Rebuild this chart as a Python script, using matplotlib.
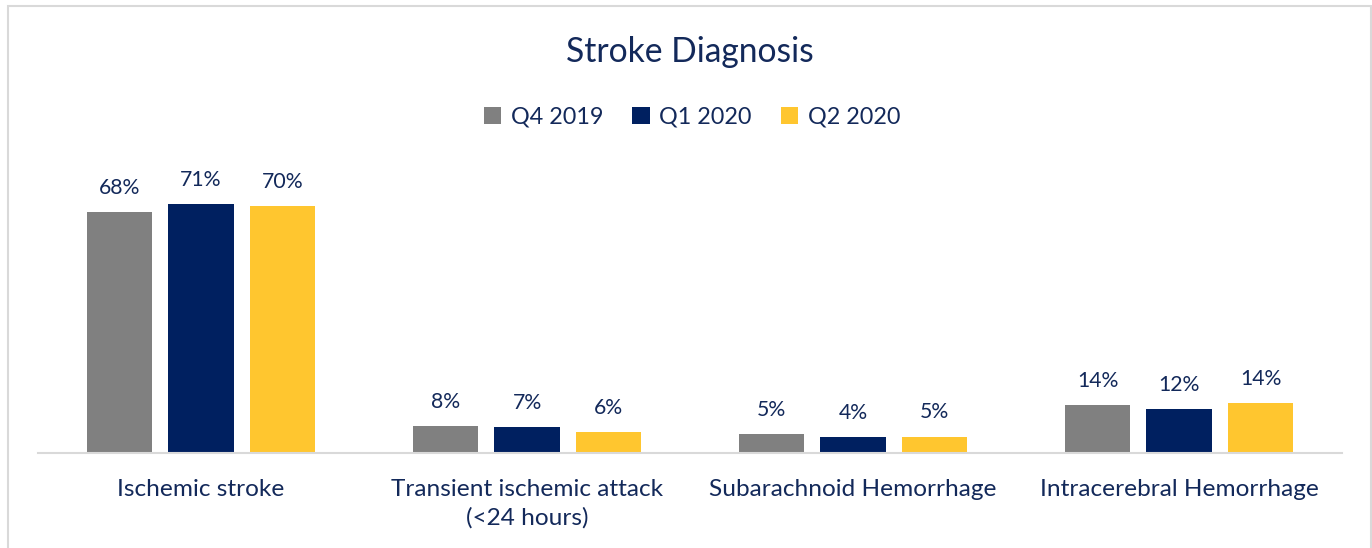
import matplotlib
matplotlib.use("Agg")
import matplotlib.pyplot as plt
from matplotlib.patches import Rectangle
import numpy as np

categories = ["Ischemic stroke", "Transient ischemic attack\n(<24 hours)",
              "Subarachnoid Hemorrhage", "Intracerebral Hemorrhage"]
series_names = ["Q4 2019", "Q1 2020", "Q2 2020"]
q4_2019 = [68.3, 7.6, 5.3, 13.6]
q1_2020 = [70.7, 7.2, 4.4, 12.3]
q2_2020 = [70.1, 5.9, 4.6, 14.2]
series_values = [q4_2019, q1_2020, q2_2020]
colors = ["#808080", "#002060", "#FFC62F"]
text_color = "#13295A"

plt.rcParams['font.family'] = ['Lato', 'DejaVu Sans']

W, H = 1372, 548
fig = plt.figure(figsize=(W / 100, H / 100), dpi=100)
fig.patch.set_facecolor("white")

# outer frame
fig.patches.append(Rectangle((8 / W, -0.05), (1371 - 8) / W, 1.05 - 6 / H,
                             transform=fig.transFigure, fill=False,
                             edgecolor="#D9D9D9", linewidth=1.5))

ax_left, ax_right = 38, 1342
ax_bottom_px = 452.7
px_per_unit = 3.52
ymax = 80
ax_top_px = ax_bottom_px - ymax * px_per_unit
ax = fig.add_axes([ax_left / W, (H - ax_bottom_px) / H,
                   (ax_right - ax_left) / W, (ax_bottom_px - ax_top_px) / H])
ax.set_xlim(-0.5, len(categories) - 0.5)
ax.set_ylim(0, ymax)

x = np.arange(len(categories))
bw = 0.2
offsets = [-0.25, 0.0, 0.25]
handles = []
for vals, name, col, off in zip(series_values, series_names, colors, offsets):
    bars = ax.bar(x + off, vals, width=bw, color=col, label=name, zorder=2)
    handles.append(bars)
    for xi, v in zip(x + off, vals):
        ax.annotate(f"{v:.0f}%", (xi, v), xytext=(0, 13), textcoords="offset points",
                    ha="center", va="baseline", fontsize=15.3, color=text_color)

for s in ["top", "right", "left"]:
    ax.spines[s].set_visible(False)
ax.spines["bottom"].set_color("#D9D9D9")
ax.spines["bottom"].set_linewidth(1.5)
ax.set_yticks([])
ax.set_xticks(x)
ax.set_xticklabels(categories, fontsize=17.6, color=text_color, linespacing=1.42)
ax.tick_params(axis="x", length=0, pad=19)

fig.text(689.5 / W, 1 - 52 / H, "Stroke Diagnosis", ha="center", va="center",
         fontsize=24.2, color=text_color)

leg = fig.legend(handles=handles, labels=series_names, loc="center",
                 bbox_to_anchor=(692 / W, 1 - 117 / H), ncol=3, frameon=False,
                 fontsize=16.8, handlelength=0.75, handleheight=0.75,
                 handletextpad=0.4, columnspacing=1.25, labelcolor=text_color)

fig.savefig("out.png", dpi=100, facecolor="white")
